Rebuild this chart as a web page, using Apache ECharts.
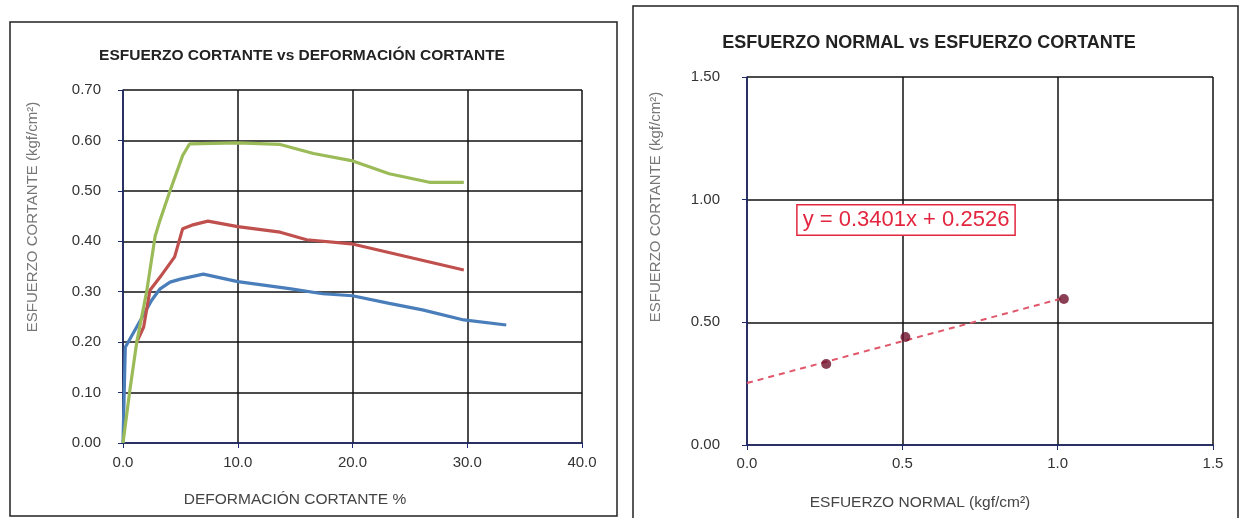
<!DOCTYPE html>
<html>
<head>
<meta charset="utf-8">
<script src="https://cdn.jsdelivr.net/npm/echarts@6/dist/echarts.min.js"></script>
<style>
  html, body { margin: 0; padding: 0; background: #fff; }
  #chart { width: 1241px; height: 518px; }
</style>
</head>
<body>
<div id="chart"></div>
<script>
// Shear stress vs shear strain, three specimens (x: %, y: kgf/cm²)
const curveLow = [[0,0],[0.2,0.19],[2.5,0.283],[3.2,0.305],[4.1,0.319],[5.0,0.325],[7.0,0.335],[10.0,0.32],[14.5,0.306],[17.4,0.296],[20.0,0.292],[23.2,0.277],[26.1,0.264],[29.7,0.244],[33.4,0.234]];
const curveMid = [[1.2,0.2],[1.8,0.23],[2.35,0.303],[3.2,0.328],[4.5,0.369],[5.2,0.425],[6.0,0.432],[7.4,0.44],[10.0,0.429],[13.7,0.418],[16.0,0.403],[19.9,0.395],[29.7,0.343]];
const curveHigh = [[0,0],[0.6,0.105],[1.2,0.2],[2.06,0.3],[2.8,0.41],[3.2,0.44],[4.1,0.5],[5.2,0.57],[5.8,0.593],[10.0,0.595],[13.7,0.592],[16.6,0.574],[19.9,0.56],[23.2,0.534],[26.7,0.517],[29.7,0.517]];

// Failure envelope: normal stress vs peak shear stress
const normalStress = [0.255, 0.51, 1.02];
const peakShear = [0.33, 0.44, 0.595];
const slope = 0.3401;
const intercept = 0.2526;

const envelopePoints = normalStress.map((x, i) => [x, peakShear[i]]);
const xEnd = normalStress[normalStress.length - 1];
const trendLine = [[0, intercept], [xEnd, slope * xEnd + intercept]];
const equationText = 'y = ' + slope.toFixed(4) + 'x + ' + intercept.toFixed(4);

const FONT = "'Liberation Sans', Arial, sans-serif";
const AXIS_BLUE = '#1f2a6e';

function axisCommon(min, max, interval, digits, margin) {
  return {
    min: min, max: max, interval: interval,
    axisLine: { show: true, onZero: false, lineStyle: { color: AXIS_BLUE, width: 1.5 } },
    axisTick: { show: true, inside: false, length: 5, lineStyle: { color: AXIS_BLUE, width: 1 } },
    splitLine: { show: true, lineStyle: { color: '#111', width: 1.5 } },
    axisLabel: { color: '#333', fontSize: 15, fontFamily: FONT, margin: margin,
      formatter: v => v.toFixed(digits) }
  };
}

const chart = echarts.init(document.getElementById('chart'), null, { renderer: 'canvas' });

chart.setOption({
  animation: false,
  backgroundColor: '#fff',
  grid: [
    { left: 123, top: 90, width: 459, height: 353 },
    { left: 747, top: 77, width: 466, height: 368 }
  ],
  xAxis: [
    Object.assign({ type: 'value', gridIndex: 0 }, axisCommon(0, 40, 10, 1, 12)),
    Object.assign({ type: 'value', gridIndex: 1 }, axisCommon(0, 1.5, 0.5, 1, 11))
  ],
  yAxis: [
    Object.assign({ type: 'value', gridIndex: 0 }, axisCommon(0, 0.7, 0.1, 2, 22)),
    Object.assign({ type: 'value', gridIndex: 1 }, axisCommon(0, 1.5, 0.5, 2, 27))
  ],
  series: [
    { type: 'line', xAxisIndex: 0, yAxisIndex: 0, data: curveLow, showSymbol: false,
      lineStyle: { color: '#4a7ebb', width: 3.2 }, z: 3 },
    { type: 'line', xAxisIndex: 0, yAxisIndex: 0, data: curveMid, showSymbol: false,
      lineStyle: { color: '#c0504d', width: 3.2 }, z: 4 },
    { type: 'line', xAxisIndex: 0, yAxisIndex: 0, data: curveHigh, showSymbol: false,
      lineStyle: { color: '#9bbb59', width: 3.2 }, z: 5 },
    { type: 'line', xAxisIndex: 1, yAxisIndex: 1, data: trendLine, showSymbol: false,
      lineStyle: { color: '#e0566a', width: 2, type: [6, 5] }, z: 3 },
    { type: 'scatter', xAxisIndex: 1, yAxisIndex: 1, data: envelopePoints,
      symbol: 'circle', symbolSize: 10, itemStyle: { color: '#6e0f2b' }, z: 4 }
  ],
  graphic: [
    // outer frames
    { type: 'rect', shape: { x: 10, y: 22, width: 607, height: 494 },
      style: { fill: 'none', stroke: '#222', lineWidth: 1.5 }, z: -1 },
    { type: 'rect', shape: { x: 633, y: 6, width: 605, height: 520 },
      style: { fill: 'none', stroke: '#222', lineWidth: 1.5 }, z: -1 },
    // titles
    { type: 'text', x: 302, y: 56, style: { text: 'ESFUERZO CORTANTE vs DEFORMACIÓN CORTANTE',
      font: 'bold 15.5px ' + FONT, fill: '#222', align: 'center', verticalAlign: 'middle' } },
    { type: 'text', x: 929, y: 43, style: { text: 'ESFUERZO NORMAL vs ESFUERZO CORTANTE',
      font: 'bold 18px ' + FONT, fill: '#222', align: 'center', verticalAlign: 'middle' } },
    // axis names
    { type: 'text', x: 295, y: 500, style: { text: 'DEFORMACIÓN CORTANTE %',
      font: '15.5px ' + FONT, fill: '#444', align: 'center', verticalAlign: 'middle' } },
    { type: 'text', x: 33, y: 217, rotation: Math.PI / 2, style: { text: 'ESFUERZO CORTANTE (kgf/cm²)',
      font: '15px ' + FONT, fill: '#777', align: 'center', verticalAlign: 'middle' } },
    { type: 'text', x: 920, y: 503, style: { text: 'ESFUERZO NORMAL (kgf/cm²)',
      font: '15.5px ' + FONT, fill: '#444', align: 'center', verticalAlign: 'middle' } },
    { type: 'text', x: 656, y: 207, rotation: Math.PI / 2, style: { text: 'ESFUERZO CORTANTE (kgf/cm²)',
      font: '15px ' + FONT, fill: '#777', align: 'center', verticalAlign: 'middle' } },
    // regression equation
    { type: 'text', x: 906, y: 220, z: 10, style: { text: equationText,
      font: '22px ' + FONT, fill: '#e3263f', align: 'center', verticalAlign: 'middle',
      backgroundColor: '#fff', borderColor: '#e3263f', borderWidth: 1.5, padding: [4, 5, 3, 5] } }
  ]
});
</script>
</body>
</html>
